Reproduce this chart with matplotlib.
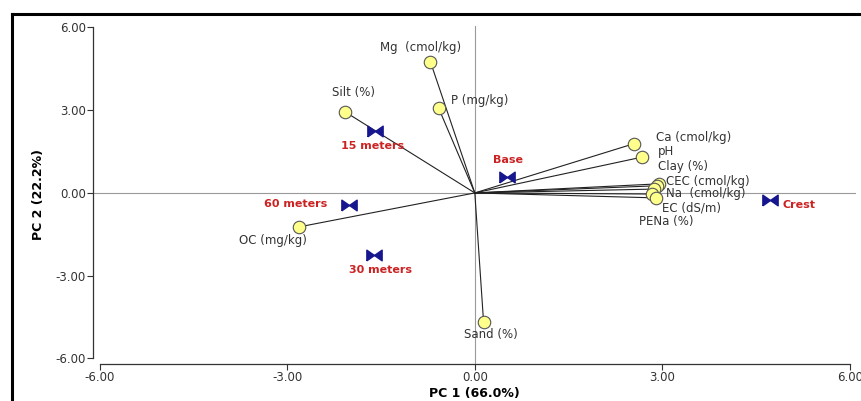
import numpy as np
import matplotlib
matplotlib.use("Agg")
from matplotlib import pyplot as plt
from matplotlib.lines import Line2D

# variable loadings (PC1, PC2)
var_names = ["Mg  (cmol/kg)", "Silt (%)", "P (mg/kg)", "Ca (cmol/kg)", "pH", "Clay (%)",
             "CEC (cmol/kg)", "Na  (cmol/kg)", "EC (dS/m)", "PENa (%)", "OC (mg/kg)", "Sand (%)"]
var_pc1 = [-0.71, -2.07, -0.58, 2.54, 2.68, 2.95, 2.92, 2.87, 2.84, 2.90, -2.81, 0.14]
var_pc2 = [4.75, 2.93, 3.08, 1.78, 1.30, 0.33, 0.26, 0.14, -0.04, -0.18, -1.23, -4.67]

# site scores
site_names = ["15 meters", "60 meters", "30 meters", "Base", "Crest"]
site_pc1 = [-1.59, -2.02, -1.62, 0.52, 4.73]
site_pc2 = [2.25, -0.43, -2.25, 0.58, -0.25]

ticks = [-6, -3, 0, 3, 6]

# label offsets in pixels (dx, dy, ha)
var_off = [(-10, 14, "center"), (8, 20, "center"), (12, 7, "left"), (22, 6, "left"),
           (16, 6, "left"), (-1, 17, "left"), (9, 4, "left"), (12, -4, "left"),
           (10, -14, "left"), (-17, -24, "left"), (-26, -14, "center"), (7, -13, "center")]
site_off = [(-3, -15, "center"), (-21, 1, "right"), (7, -15, "center"),
            (1, 17, "center"), (12, -5, "left")]

fig = plt.figure(figsize=(8.61, 4.01), dpi=100)
ax = fig.add_axes([93 / 861, 37 / 401, 763 / 861, 338 / 401])
ax.set_xlim(-6.11, 6.1)
ax.set_ylim(-6.2, 6.05)

ax.axhline(0, color="#9a9a9a", lw=0.8, zorder=1)
ax.axvline(0, color="#9a9a9a", lw=0.8, zorder=1)

for x, y in zip(var_pc1, var_pc2):
    ax.plot([0, x], [0, y], color="#222222", lw=0.8, zorder=2)
ax.plot(var_pc1, var_pc2, "o", ms=9, mfc="#ffff8c", mec="#555555", mew=0.8, zorder=3)

bowtie = [(-1, -0.7), (-1, 0.7), (0, 0), (1, 0.7), (1, -0.7), (0, 0), (-1, -0.7)]
ax.plot(site_pc1, site_pc2, linestyle="none", marker=bowtie, ms=11,
        mfc="#16168f", mec="#16168f", zorder=4)

for name, x, y, (dx, dy, ha) in zip(var_names, var_pc1, var_pc2, var_off):
    ax.annotate(name, (x, y), xytext=(dx, dy), textcoords="offset pixels",
                ha=ha, va="center", fontsize=8.5, color="#333333", zorder=5)
for name, x, y, (dx, dy, ha) in zip(site_names, site_pc1, site_pc2, site_off):
    ax.annotate(name, (x, y), xytext=(dx, dy), textcoords="offset pixels",
                ha=ha, va="center", fontsize=8, fontweight="bold", color="#cc2222", zorder=5)

for s in ["top", "right"]:
    ax.spines[s].set_visible(False)
ax.spines["left"].set_bounds(-6, 6)
ax.spines["bottom"].set_bounds(-6, 6)
for s in ["left", "bottom"]:
    ax.spines[s].set_color("#333333")
    ax.spines[s].set_linewidth(0.9)
ax.set_xticks(ticks)
ax.set_yticks(ticks)
ax.set_xticklabels(["%.2f" % t for t in ticks])
ax.set_yticklabels(["%.2f" % t for t in ticks])
ax.tick_params(length=4, width=0.8, color="#333333", labelsize=8.5, labelcolor="#333333", pad=1)

ax.set_xlabel("PC 1 (66.0%)", fontsize=9, fontweight="bold", labelpad=2)
ax.set_ylabel("PC 2 (22.2%)", fontsize=9, fontweight="bold", labelpad=8,
              family=["Liberation Sans Narrow", "DejaVu Sans"])

# outer frame (top and left edges visible)
fig.add_artist(Line2D([12 / 861, 12 / 861], [0, 1 - 14 / 401], transform=fig.transFigure,
                      color="black", lw=2.2))
fig.add_artist(Line2D([12 / 861, 1], [1 - 14 / 401, 1 - 14 / 401], transform=fig.transFigure,
                      color="black", lw=2.2))

fig.savefig("out.png", dpi=100)
